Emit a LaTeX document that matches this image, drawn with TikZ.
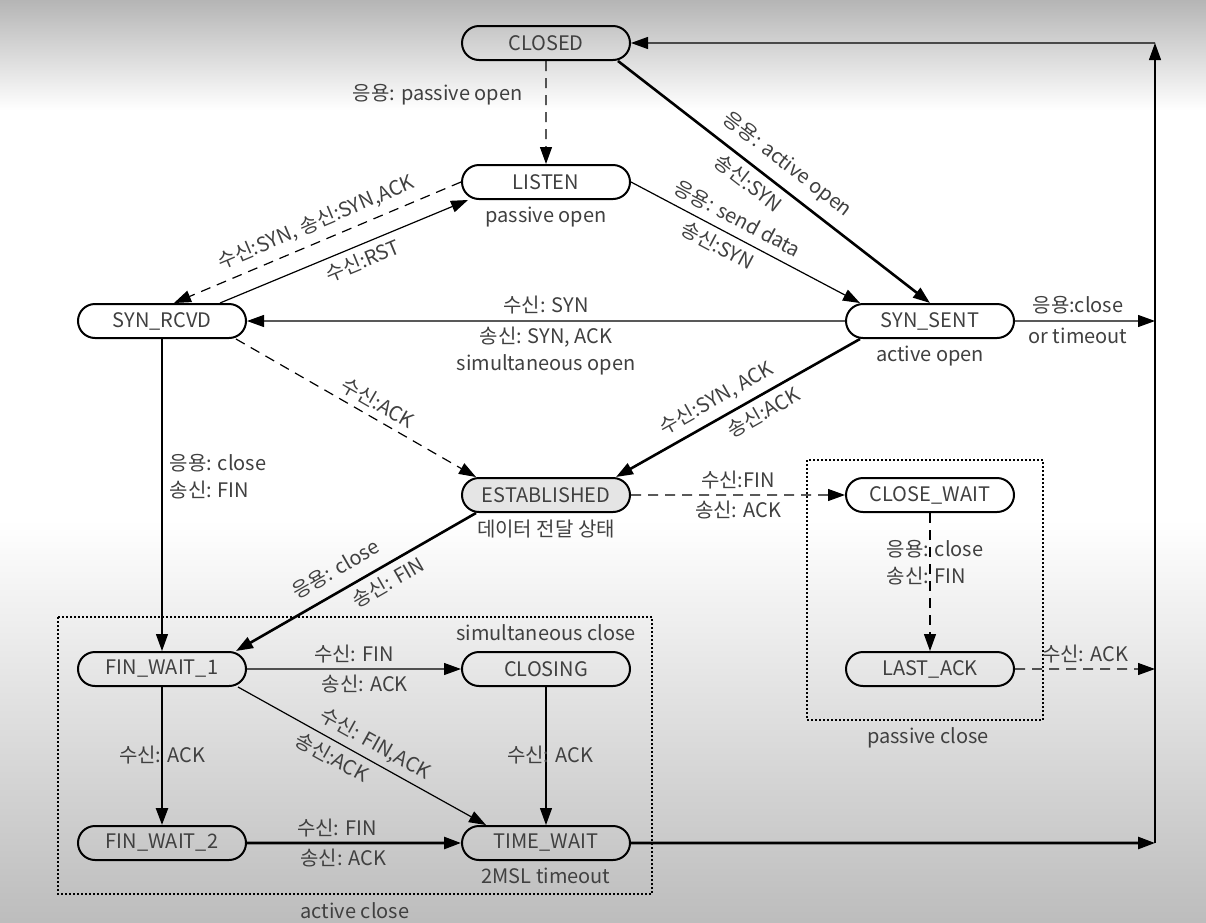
\documentclass[tikz,border=0pt]{standalone}
\usepackage{fontspec}
\setmainfont{Noto Sans CJK KR}
\usetikzlibrary{positioning, arrows.meta, shapes.misc, calc}

\tikzset{
    tcpstate/.style={draw, rounded rectangle, on grid, line width=1pt, minimum width=86pt,
        minimum height=17pt, inner sep=1pt, text=black!75, font=\fontsize{10}{12}\selectfont},
    lbl/.style={text=black!75, font=\fontsize{10}{13.5}\selectfont, inner sep=1.5pt},
    sub/.style={lbl, label distance=2pt},
    fat/.style={line width=1.3pt},
    dashline/.style={dash pattern=on 5pt off 3.5pt},
    group/.style={draw, line width=0.6pt, dash pattern=on 1pt off 1pt},
}

\begin{document}
\begin{tikzpicture}[x=0.5pt, y=-0.5pt, >={Triangle[length=8.5pt,width=6pt]}]
    % background
    \shade[top color=black!29, bottom color=white] (0,0) rectangle (1206,110);
    \fill[white] (0,110) rectangle (1206,520);
    \shade[top color=white, bottom color=black!26] (0,520) rectangle (1206,922);
    \useasboundingbox (0,0) rectangle (1206,922);

    % close groups
    \draw[group] (58,617) rectangle (652,894);
    \draw[group] (807,460) rectangle (1043,720);
    \node[lbl] (simclose) at (546,633) {simultaneous close};
    \node[lbl] (actclose) at (355,911) {active close};
    \node[lbl] (pasclose) at (928,738) {passive close};

    % states
    \node[tcpstate] (closed) at (546,43) {CLOSED};
    \node[tcpstate, below=69.5pt of closed, label={[sub]below:passive open}] (listen) {LISTEN};
    \node[tcpstate, below left=69.5pt and 192pt of listen] (synrcvd) {SYN\_RCVD};
    \node[tcpstate, below right=69.5pt and 192pt of listen, label={[sub]below:active open}] (synsent) {SYN\_SENT};
    \node[tcpstate, fill=black!10, below=156.5pt of listen, label={[sub]below:데이터 전달 상태}] (estab) {ESTABLISHED};
    \node[tcpstate, right=192pt of estab] (closewait) {CLOSE\_WAIT};
    \node[tcpstate, below=87pt of closewait] (lastack) {LAST\_ACK};
    \node[tcpstate, below left=87pt and 192pt of estab] (finwait1) {FIN\_WAIT\_1};
    \node[tcpstate, right=192pt of finwait1] (closing) {CLOSING};
    \node[tcpstate, below=87pt of finwait1] (finwait2) {FIN\_WAIT\_2};
    \node[tcpstate, below=87pt of closing, label={[sub]below:2MSL timeout}] (timewait) {TIME\_WAIT};

    \coordinate (rail) at (1155,0);

    \path[->, line width=0.6pt]
    (closed) edge [dashline] node[lbl, left=10pt, pos=0.33] {응용: passive open} (listen)
    ([xshift=36pt]closed.south) edge [fat] node[lbl, sloped, above=3.5pt, pos=0.5] {응용: active open}
        node[lbl, sloped, below=1.5pt, pos=0.45] {송신:SYN} (synsent.north)
    (listen.east) edge node[lbl, sloped, above=2.5pt, pos=0.43] {응용: send data}
        node[lbl, sloped, below=1.5pt, pos=0.41] {송신:SYN} ([xshift=-35pt]synsent.north)
    (listen.west) edge [dashline] node[lbl, sloped, above=2.5pt, pos=0.48] {수신:SYN, 송신:SYN,ACK} ([xshift=6pt]synrcvd.north)
    ([xshift=29pt]synrcvd.north) edge node[lbl, sloped, below=1.5pt, pos=0.55] {수신:RST} ([xshift=-39pt]listen.south)
    (synsent) edge node[lbl, above=1.5pt] {수신: SYN}
        node[lbl, below=1pt, align=center] {송신: SYN, ACK\\simultaneous open} (synrcvd)
    ([xshift=37pt]synrcvd.south) edge [dashline] node[lbl, sloped, above=1.5pt, pos=0.56] {수신:ACK} ([xshift=-35pt]estab.north)
    ([xshift=-35pt]synsent.south) edge [fat] node[lbl, sloped, above=2pt, pos=0.55] {수신:SYN, ACK}
        node[lbl, sloped, below=1.5pt, pos=0.43] {송신:ACK} ([xshift=35pt]estab.north)
    (synrcvd) edge node[lbl, right=2pt, pos=0.44, align=left] {응용: close\\송신: FIN} (finwait1)
    ([xshift=-35pt]estab.south) edge [fat] node[lbl, sloped, above=4pt, pos=0.54] {응용: close}
        node[lbl, sloped, below=1.5pt, pos=0.4] {송신: FIN} ([xshift=37pt]finwait1.north)
    (estab) edge [dashline] node[lbl, above=1pt] {수신:FIN} node[lbl, below=1pt] {송신: ACK} (closewait)
    (closewait) edge [dashline] node[lbl, pos=0.36, xshift=2.5pt, align=left] {응용: close\\송신: FIN} (lastack)
    (lastack) edge [dashline] node[lbl, above=1pt] {수신: ACK} (rail |- lastack)
    (synsent) edge node[lbl, above=1.5pt, pos=0.45] {응용:close} node[lbl, below=1.5pt, pos=0.45] {or timeout} (rail |- synsent)
    (finwait1) edge node[lbl, above=1pt] {수신: FIN} node[lbl, below=1pt, pos=0.55] {송신: ACK} (closing)
    (finwait1) edge [fat] node[lbl, pos=0.49] {수신: ACK} (finwait2)
    ([xshift=38pt]finwait1.south) edge node[lbl, sloped, above=1.5pt, pos=0.52] {수신: FIN,ACK}
        node[lbl, sloped, below=1.5pt, pos=0.41] {송신:ACK} ([xshift=-30pt]timewait.north)
    (closing) edge node[lbl, pos=0.49, xshift=2pt] {수신: ACK} (timewait)
    (finwait2) edge [fat] node[lbl, above=1pt, pos=0.42] {수신: FIN} node[lbl, below=1pt, pos=0.45] {송신: ACK} (timewait)
    (timewait) edge [fat] (rail |- timewait)
    ;

    % back to CLOSED
    \draw[->, line width=0.6pt] (rail |- timewait) -- (rail |- closed);
    \draw[->, line width=0.6pt] (rail |- closed) -- (closed);
\end{tikzpicture}
\end{document}
